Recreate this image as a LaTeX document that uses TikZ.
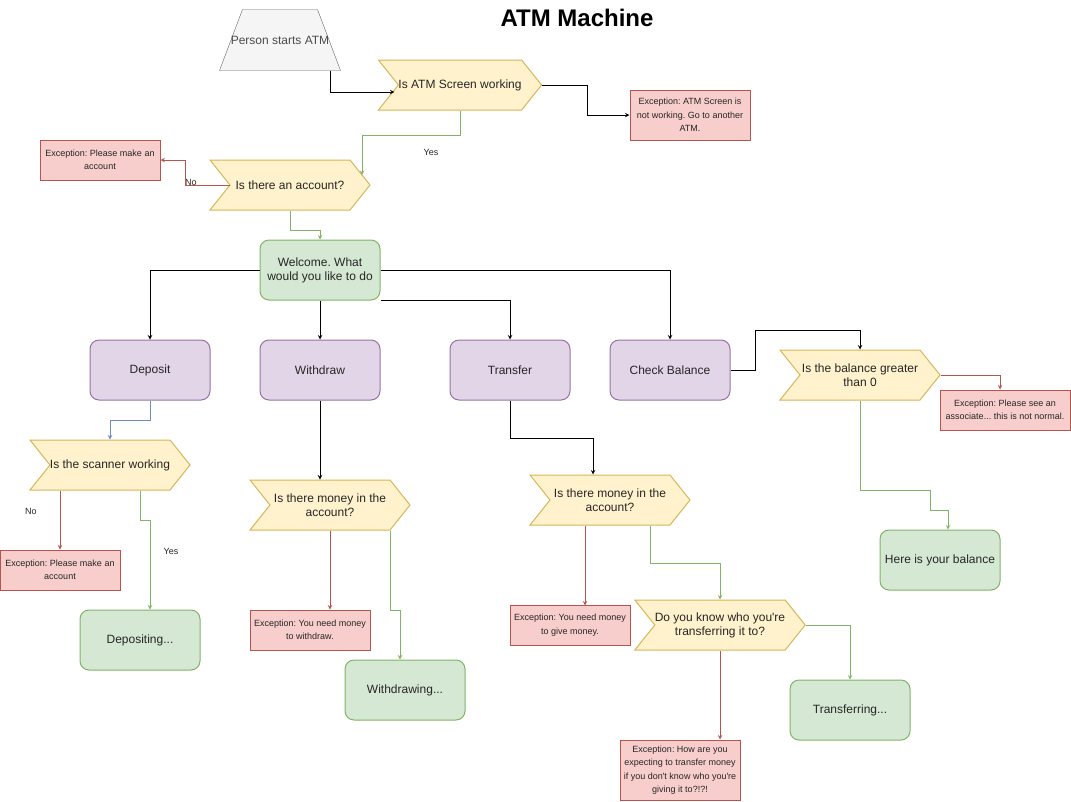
\documentclass[tikz,border=0pt]{standalone}
\usepackage{fontspec}
\setmainfont{Liberation Sans}
\usetikzlibrary{shapes.symbols, calc, backgrounds}
\frenchspacing

\definecolor{decfill}{HTML}{FFF2CC}
\definecolor{decline}{HTML}{D6B656}
\definecolor{excfill}{HTML}{F8CECC}
\definecolor{excline}{HTML}{B85450}
\definecolor{okfill}{HTML}{D5E8D4}
\definecolor{okline}{HTML}{82B366}
\definecolor{optfill}{HTML}{E1D5E7}
\definecolor{optline}{HTML}{9673A6}
\definecolor{startfill}{HTML}{F5F5F5}
\definecolor{startline}{HTML}{666666}
\definecolor{blueline}{HTML}{6C8EBF}

\begin{document}
\begin{tikzpicture}[x=1pt, y=-1pt, >=stealth, line width=1pt,
    every node/.style={font=\fontsize{12}{14}\selectfont, text=black!85, inner sep=0pt},
    chev/.style={signal, signal from=west, signal to=east, signal pointer angle=102.68,
        draw=decline, fill=decfill, minimum width=160pt, minimum height=50pt, align=center},
    exc/.style={rectangle, draw=excline, fill=excfill, minimum width=120pt, minimum height=50pt,
        align=center, font=\fontsize{9}{13.5}\selectfont},
    okbox/.style={rectangle, rounded corners=9pt, draw=okline, fill=okfill,
        minimum width=120pt, minimum height=60pt, align=center},
    choice/.style={rectangle, rounded corners=9pt, draw=optline, fill=optfill,
        minimum width=120pt, minimum height=60pt, align=center},
    lbl/.style={font=\fontsize{9}{11}\selectfont},
    flow/.style={->, black},
    yesflow/.style={->, okline},
    noflow/.style={->, excline}]
    \useasboundingbox (0,0) rectangle (1071,801);

    % Title
    \node[font=\bfseries\fontsize{24}{28}\selectfont, text=black] (title) at (577,18) {ATM Machine};

    % Start and first checks
    \node[minimum width=120pt, minimum height=60pt, text=black!70] (start) at (280,40) {Person starts ATM};
    \begin{scope}[on background layer]
        \draw[draw=startline, fill=startfill] (start.south west) -- ($(start.north west)+(23,0)$)
            -- ($(start.north east)+(-23,0)$) -- (start.south east) -- cycle;
    \end{scope}
    \node[chev] (screen) at (460,85) {Is ATM Screen working};
    \node[exc] (exscreen) at (690,115) {Exception: ATM Screen is\\not working. Go to another\\ATM.};
    \node[chev] (account) at (290,185) {Is there an account?};
    \node[exc, minimum height=40pt] (exaccount) at (100,160) {Exception: Please make an\\account};
    \node[okbox] (welcome) at (320,270) {Welcome. What\\would you like to do};

    % Options
    \node[choice] (deposit) at (150,370) {Deposit};
    \node[choice] (withdraw) at (320,370) {Withdraw};
    \node[choice] (transfer) at (510,370) {Transfer};
    \node[choice] (check) at (670,370) {Check Balance};

    % Deposit branch
    \node[chev] (scanner) at (110,465) {Is the scanner working};
    \node[exc, minimum height=40pt] (exscanner) at (60,570) {Exception: Please make an\\account};
    \node[okbox] (depositing) at (140,640) {Depositing...};

    % Withdraw branch
    \node[chev] (moneyw) at (330,505) {Is there money in the\\account?};
    \node[exc, minimum height=40pt] (exmoneyw) at (310,630) {Exception: You need money\\to withdraw.};
    \node[okbox] (withdrawing) at (405,690) {Withdrawing...};

    % Transfer branch
    \node[chev] (moneyt) at (610,500) {Is there money in the\\account?};
    \node[exc, minimum height=40pt] (exmoneyt) at (570,625) {Exception: You need money\\to give money.};
    \node[chev] (who) at (720,625) {Do you know who you\textquotesingle re\\transferring it to?};
    \node[exc, minimum height=60pt] (exwho) at (680,770) {Exception: How are you\\expecting to transfer money\\if you don\textquotesingle t know who you\textquotesingle re\\giving it to?!?!};
    \node[okbox] (transferring) at (850,710) {Transferring...};

    % Balance branch
    \node[chev] (balance) at (860,375) {Is the balance greater\\than 0};
    \node[exc, minimum width=130pt, minimum height=40pt] (exbalance) at (1005,410) {Exception: Please see an\\associate... this is not normal.};
    \node[okbox] (result) at (940,560) {Here is your balance};

    % Labels
    \node[lbl] (yesscreen) at (431,152) {Yes};
    \node[lbl] (noaccount) at (191,182) {No};
    \node[lbl] (noscanner) at (31,511) {No};
    \node[lbl] (yesscanner) at (171,551) {Yes};

    % Connections
    \draw[flow] ([xshift=50pt]start.south) |- ($(screen.center)+(-65.6,7)$);
    \draw[flow] (screen.east) -- ++(45,0) |- (exscreen.west);
    \draw[yesflow] (screen.south) -- ++(0,25) -| ($(account.center)+(72,-10)$);
    \draw[noflow] ($(account.center)+(-60,0)$) -- ++(-45,0) |- (exaccount.east);
    \draw[yesflow] (account.south) -- ++(0,20) -| (welcome.north);

    \draw[flow] (welcome.west) -| (deposit.north);
    \draw[flow] (welcome.south) -- (withdraw.north);
    \draw[flow] (welcome.south east) -| (transfer.north);
    \draw[flow] (welcome.east) -| (check.north);

    \draw[->, blueline] (deposit.south) -- ++(0,20) -| (scanner.north);
    \draw[noflow] ($(scanner.south)+(-50,0)$) -- (exscanner.north);
    \draw[yesflow] ($(scanner.south)+(30,0)$) -- ++(0,30) -| ($(depositing.north)+(10,0)$);

    \draw[flow] (withdraw.south) -- (withdraw.south |- moneyw.north);
    \draw[noflow] (moneyw.south) -- (moneyw.south |- exmoneyw.north);
    \draw[yesflow] ($(moneyw.south)+(60,0)$) -- ++(0,80) -| ($(withdrawing.north)+(-5,0)$);

    \draw[flow] (transfer.south) -- ++(0,38) -| ($(moneyt.north)+(-17,0)$);
    \draw[noflow] ($(moneyt.south)+(-25,0)$) -- ++(0,80);
    \draw[yesflow] ($(moneyt.south)+(40,0)$) -- ++(0,38) -| (who.north);
    \draw[noflow] (who.south) -- (who.south |- exwho.north);
    \draw[yesflow] (who.east) -| (transferring.north);

    \draw[flow] (check.east) -- ++(25,0) -- ++(0,-40) -| (balance.north);
    \draw[noflow] (balance.east) -| ($(exbalance.north)+(-5,0)$);
    \draw[yesflow] (balance.south) -- ++(0,90) -- ++(70,0) -- ++(0,20) -| ($(result.north)+(8,0)$);
\end{tikzpicture}
\end{document}
